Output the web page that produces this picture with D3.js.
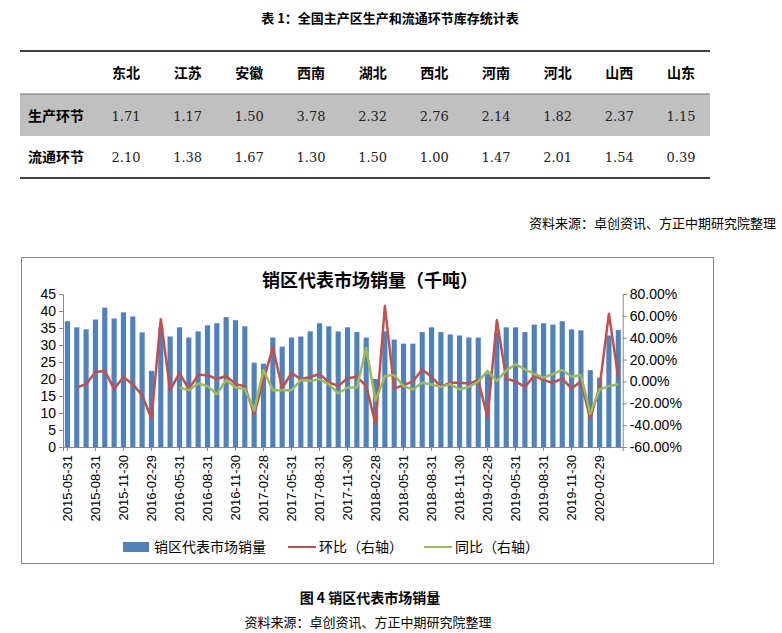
<!DOCTYPE html>
<html>
<head>
<meta charset="utf-8">
<script src="https://cdn.jsdelivr.net/npm/d3@7"></script>
<style>
  body { margin: 0; background: #fff; }
  svg { display: block; }
</style>
</head>
<body>
<script>
const regions = ['东北', '江苏', '安徽', '西南', '湖北', '西北', '河南', '河北', '山西', '山东'];
const rowNames = ['生产环节', '流通环节'];
const prodStock = [1.71, 1.17, 1.50, 3.78, 2.32, 2.76, 2.14, 1.82, 2.37, 1.15];
const flowStock = [2.10, 1.38, 1.67, 1.30, 1.50, 1.00, 1.47, 2.01, 1.54, 0.39];

// 2015-05 .. 2020-04 month ends
const months = [];
for (let i = 0; i < 60; i += 1) {
  const d = new Date(2015, 4 + i + 1, 0);
  months.push(d3.timeFormat('%Y-%m-%d')(d));
}
const sales = [37, 35.2, 34.6, 37.5, 41, 37.8, 39.6, 38.4, 33.7, 22.4,
  35.2, 32.5, 35.2, 32.2, 34, 35.8, 36.4, 38.2, 37.3, 35.5,
  24.8, 24.5, 32.2, 29.5, 32.2, 32.5, 34, 36.4, 35.5, 34,
  35.2, 33.8, 32.2, 20, 34, 31.6, 30.4, 30.4, 33.8, 35.2,
  33.8, 33.1, 32.8, 32.2, 32.2, 21.6, 33.7, 35.2, 35.2, 33.8,
  36, 36.4, 36, 37, 34.6, 34.3, 22.6, 20.4, 32.8, 34.4];
const mom = [null, -5.6, -2.5, 8.7, 9.6, -7, 4, -2.5, -12.7, -34,
  57, -8, 7.7, -7, 5.9, 5.9, 2.2, 5, -2.5, -4.3,
  -30, 1, 31, -6, 7.7, 2, 4, 6.8, -0.6, -4.3,
  3, 4.3, -4.3, -39, 69, -6.5, -3.4, 0, 11, 4.3,
  -5, -1.2, -1.2, -2, 1.2, -33, 56, 2.5, 0, -5,
  5.3, 1.2, -1.2, 2.5, -6.5, 0, -34, -5, 62, 3.7];
const yoy = [null, null, null, null, null, null, null, null, null, null,
  null, null, -5.6, -8, -1.9, -4.3, -11.7, 1.2, -5.6, -7,
  -26.6, 10.5, -8, -8, -8, 1.2, 0.3, 2, -2.5, -11,
  -5.6, -5.6, 30.6, -17.6, 5, 5.9, -4.3, -7.4, -1.2, -2.8,
  -5, -2.5, -7.4, -5, -0.3, 9.6, 0.6, 9.9, 15.8, 11,
  6.8, 3.4, 6.8, 10.5, 4.3, 5.9, -29.7, -7.4, -4.3, -2.5];

const svg = d3.select('body').append('svg').attr('width', 782).attr('height', 633);
const serif = '"Noto Sans CJK SC", "DejaVu Serif", serif';
const sans = '"Liberation Sans", "Noto Sans CJK SC", sans-serif';
const cjk = '"Noto Sans CJK SC", sans-serif';

/* 表格 */
svg.append('text').attr('x', 390).attr('y', 23).attr('text-anchor', 'middle')
  .attr('font-family', serif).attr('font-weight', 'bold').attr('font-size', 13)
  .text('表  1：全国主产区生产和流通环节库存统计表');

const colX = d3.scalePoint().domain(regions).range([126, 681]);
svg.append('rect').attr('x', 20).attr('y', 94).attr('width', 690).attr('height', 42).attr('fill', '#c0c0c0');
svg.append('line').attr('x1', 20).attr('x2', 710).attr('y1', 51).attr('y2', 51).attr('stroke', '#000').attr('stroke-width', 1.5);
svg.append('line').attr('x1', 20).attr('x2', 710).attr('y1', 94).attr('y2', 94).attr('stroke', '#555').attr('stroke-width', 0.8);
svg.append('line').attr('x1', 20).attr('x2', 710).attr('y1', 178).attr('y2', 178).attr('stroke', '#000').attr('stroke-width', 1.5);

svg.selectAll('.hdr').data(regions).enter().append('text')
  .attr('x', (d) => colX(d)).attr('y', 78).attr('text-anchor', 'middle')
  .attr('font-family', serif).attr('font-weight', 'bold').attr('font-size', 14).text((d) => d);

[prodStock, flowStock].forEach((row, r) => {
  const yy = r === 0 ? 121 : 162;
  svg.append('text').attr('x', 28).attr('y', yy).attr('font-family', serif)
    .attr('font-weight', 'bold').attr('font-size', 14).text(rowNames[r]);
  svg.selectAll(`.v${r}`).data(row).enter().append('text')
    .attr('x', (d, i) => colX(regions[i])).attr('y', yy).attr('text-anchor', 'middle')
    .attr('font-family', '"DejaVu Serif", serif').attr('font-size', 13).attr('fill', '#222')
    .text((d) => d.toFixed(2));
});

svg.append('text').attr('x', 776).attr('y', 228).attr('text-anchor', 'end')
  .attr('font-family', serif).attr('font-size', 13).text('资料来源：卓创资讯、方正中期研究院整理');

/* 图表 */
svg.append('rect').attr('x', 21.5).attr('y', 257.5).attr('width', 692).attr('height', 306)
  .attr('fill', 'none').attr('stroke', '#888');
svg.append('text').attr('x', 370).attr('y', 287).attr('text-anchor', 'middle')
  .attr('font-family', serif).attr('font-weight', 'bold').attr('font-size', 18).text('销区代表市场销量（千吨）');

const x = d3.scaleBand().domain(months).range([63, 622.7]).paddingInner(0.45).paddingOuter(0.2);
const yL = d3.scaleLinear().domain([0, 45]).range([447, 294]);
const yR = d3.scaleLinear().domain([-60, 80]).range([447, 294]);
const cx = (d) => x(d) + x.bandwidth() / 2;

svg.append('g').selectAll('rect').data(sales).enter().append('rect')
  .attr('x', (d, i) => x(months[i])).attr('width', x.bandwidth())
  .attr('y', (d) => yL(d)).attr('height', (d) => yL(0) - yL(d)).attr('fill', '#4f81bd');

const line = d3.line().defined((d) => d !== null)
  .x((d, i) => cx(months[i])).y((d) => yR(d));
svg.append('path').datum(mom).attr('d', line).attr('fill', 'none')
  .attr('stroke', '#c0504d').attr('stroke-width', 2.5).attr('stroke-linejoin', 'round');
svg.append('path').datum(yoy).attr('d', line).attr('fill', 'none')
  .attr('stroke', '#9bbb59').attr('stroke-width', 2.5).attr('stroke-linejoin', 'round');

const axL = svg.append('g').attr('transform', 'translate(63,0)')
  .call(d3.axisLeft(yL).tickValues(d3.range(0, 46, 5)).tickSize(4));
const axR = svg.append('g').attr('transform', 'translate(622.7,0)')
  .call(d3.axisRight(yR).tickValues(d3.range(-60, 81, 20)).tickSize(4)
    .tickFormat((d) => `${d.toFixed(2)}%`));
const axB = svg.append('g').attr('transform', 'translate(0,447)')
  .call(d3.axisBottom(x).tickValues(months.filter((d, i) => i % 3 === 0)).tickSize(4));
axB.selectAll('text').attr('transform', 'rotate(-90)').attr('text-anchor', 'end')
  .attr('x', -8).attr('y', 0).attr('dy', '0.35em');
[axL, axR, axB].forEach((a) => {
  a.selectAll('path,line').attr('stroke', '#888');
  a.selectAll('text').attr('font-family', sans).attr('font-size', 14).attr('fill', '#000');
});
axB.selectAll('text').attr('font-size', 13);

/* 图例 */
const legend = [
  { name: '销区代表市场销量', type: 'rect', color: '#4f81bd', x: 123 },
  { name: '环比（右轴）', type: 'line', color: '#c0504d', x: 288 },
  { name: '同比（右轴）', type: 'line', color: '#9bbb59', x: 424 },
];
legend.forEach((l) => {
  if (l.type === 'rect') {
    svg.append('rect').attr('x', l.x).attr('y', 542).attr('width', 26).attr('height', 10).attr('fill', l.color);
  } else {
    svg.append('line').attr('x1', l.x).attr('x2', l.x + 28).attr('y1', 547).attr('y2', 547)
      .attr('stroke', l.color).attr('stroke-width', 2);
  }
  svg.append('text').attr('x', l.x + 31).attr('y', 552).attr('font-family', cjk)
    .attr('font-size', 14).text(l.name);
});

svg.append('text').attr('x', 370).attr('y', 603).attr('text-anchor', 'middle')
  .attr('font-family', serif).attr('font-weight', 'bold').attr('font-size', 14).text('图 4  销区代表市场销量');
svg.append('text').attr('x', 368).attr('y', 627).attr('text-anchor', 'middle')
  .attr('font-family', serif).attr('font-size', 13).text('资料来源：卓创资讯、方正中期研究院整理');
</script>
</body>
</html>
